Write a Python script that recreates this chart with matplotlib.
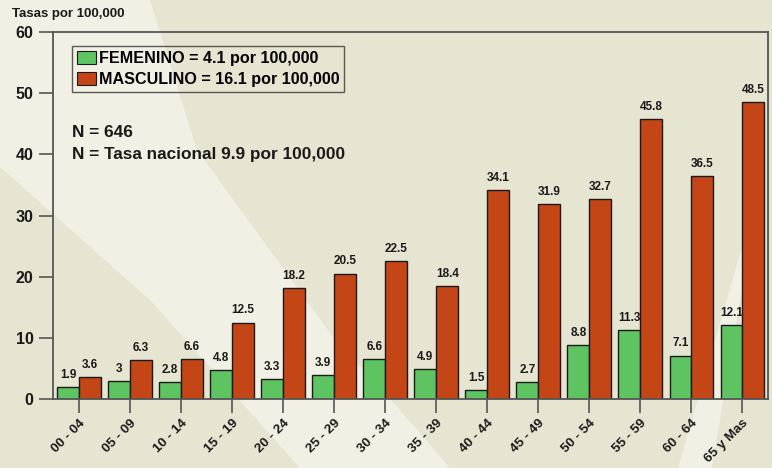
import numpy as np
import matplotlib
matplotlib.use('Agg')
import matplotlib.pyplot as plt
from matplotlib.patches import Polygon, Patch

plt.rcParams['font.family'] = ['Liberation Sans', 'DejaVu Sans']
plt.rcParams['font.weight'] = 'bold'

# datos
grupos = ['00 - 04', '05 - 09', '10 - 14', '15 - 19', '20 - 24', '25 - 29', '30 - 34',
          '35 - 39', '40 - 44', '45 - 49', '50 - 54', '55 - 59', '60 - 64', '65 y Mas']
femenino = [1.9, 3, 2.8, 4.8, 3.3, 3.9, 6.6, 4.9, 1.5, 2.7, 8.8, 11.3, 7.1, 12.1]
masculino = [3.6, 6.3, 6.6, 12.5, 18.2, 20.5, 22.5, 18.4, 34.1, 31.9, 32.7, 45.8, 36.5, 48.5]
y_ticks = [0, 10, 20, 30, 40, 50, 60]

W, H = 772, 468
fondo = '#e6e5d2'
claro = '#f0f1e4'
verde = '#5ec462'
rojo = '#c44516'

fig = plt.figure(figsize=(W / 100, H / 100), dpi=100, facecolor=fondo)

# fondo con franjas claras (en pixeles)
bg = fig.add_axes([0, 0, 1, 1], zorder=-1)
bg.set_xlim(0, W)
bg.set_ylim(H, 0)
bg.axis('off')
banda = [(0, 0), (150, 0), (197, 150), (333, 337), (400, 410), (450, 468),
         (300, 468), (150, 300), (0, 167)]
bg.add_patch(Polygon(banda, closed=True, facecolor=claro, edgecolor='none'))
franja = [(678, 468), (712, 468), (750, 240), (744, 240)]
bg.add_patch(Polygon(franja, closed=True, facecolor=claro, edgecolor='none'))

ax = fig.add_axes([53 / W, 1 - 399 / H, 715 / W, 367 / H], zorder=1)
ax.set_facecolor('none')

x = np.arange(len(grupos))
ancho = 0.43
ax.bar(x - ancho / 2, femenino, ancho, color=verde, edgecolor='#1a1a1a', linewidth=1, zorder=2)
ax.bar(x + ancho / 2, masculino, ancho, color=rojo, edgecolor='#1a1a1a', linewidth=1, zorder=2)

for i in range(len(grupos)):
    ax.text(x[i] - ancho / 2, femenino[i] + 1.0, f'{femenino[i]:g}', ha='center', va='bottom',
            fontsize=8.5, fontweight='bold', color='#1a1a1a')
    ax.text(x[i] + ancho / 2, masculino[i] + 1.0, f'{masculino[i]:g}', ha='center', va='bottom',
            fontsize=8.5, fontweight='bold', color='#1a1a1a')

ax.set_xlim(-0.51, 13.5)
ax.set_ylim(0, 60)
ax.set_yticks(y_ticks)
ax.set_yticklabels([str(t) for t in y_ticks], fontsize=11.5, fontweight='bold', color='#1a1a1a')
ax.set_xticks(x)
ax.set_xticklabels(grupos, rotation=45, ha='right', rotation_mode='anchor',
                   fontsize=9.6, fontweight='bold', color='#1a1a1a')
ax.tick_params(axis='both', direction='out', length=10, width=1.2, color='#555555', pad=4)
ax.tick_params(axis='x', pad=3)

for lado in ['left', 'bottom', 'top', 'right']:
    ax.spines[lado].set_color('#555555')
    ax.spines[lado].set_linewidth(1.3)

handles = [Patch(facecolor=verde, edgecolor='#1a1a1a', linewidth=0.8),
           Patch(facecolor=rojo, edgecolor='#1a1a1a', linewidth=0.8)]
leg = ax.legend(handles, ['FEMENINO = 4.1 por 100,000', 'MASCULINO = 16.1 por 100,000'],
                loc='upper left', bbox_to_anchor=(0.027, 0.962), fancybox=False,
                prop={'size': 11.6, 'weight': 'bold'}, handlelength=1.15, handleheight=0.85,
                handletextpad=0.2, borderpad=0.3, labelspacing=0.4, borderaxespad=0)
leg.get_frame().set_facecolor('none')
leg.get_frame().set_edgecolor('#333333')
leg.get_frame().set_linewidth(1.0)

ax.text(0.027, 43.5, 'N = 646', transform=ax.get_yaxis_transform(), fontsize=12.4,
        fontweight='bold', va='center', color='#1a1a1a')
ax.text(0.027, 39.9, 'N = Tasa nacional 9.9 por 100,000', transform=ax.get_yaxis_transform(),
        fontsize=12.4, fontweight='bold', va='center', color='#1a1a1a')

fig.text(12 / W, 1 - 14 / H, 'Tasas por 100,000', fontsize=9.5, fontweight='bold',
         va='center', ha='left', color='#1a1a1a')

fig.savefig('out.png', dpi=100, facecolor=fondo)
